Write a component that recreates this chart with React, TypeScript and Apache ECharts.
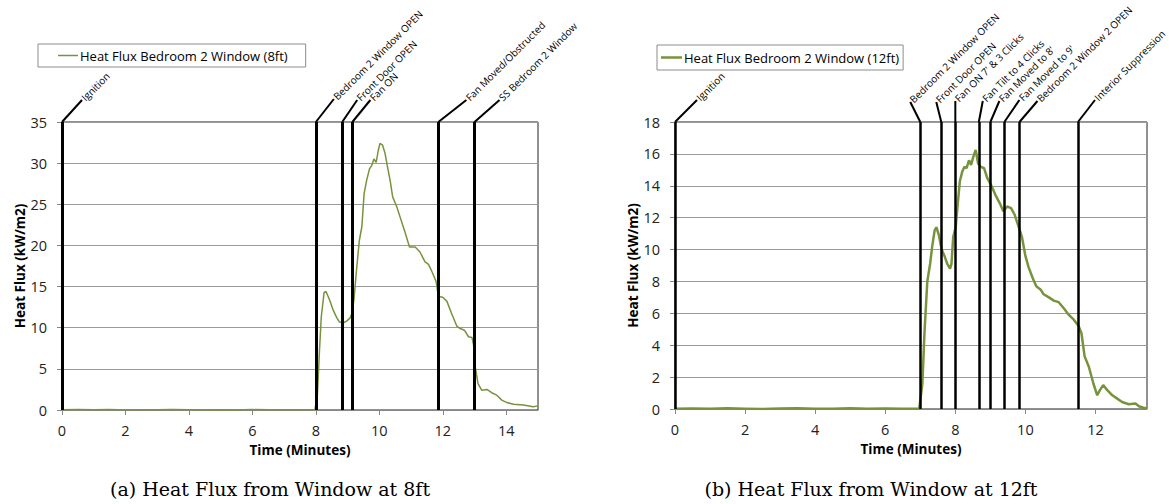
import React, { useEffect, useRef } from "react";
import * as echarts from "echarts";

const seriesNameA = "Heat Flux Bedroom 2 Window (8ft)";
const seriesNameB = "Heat Flux Bedroom 2 Window (12ft)";
const captionA = "(a) Heat Flux from Window at 8ft";
const captionB = "(b) Heat Flux from Window at 12ft";
const xAxisTitle = "Time (Minutes)";
const yAxisTitle = "Heat Flux (kW/m2)";

// [time (min), heat flux (kW/m2)]
const fluxA: [number, number][] = [
  [0, 0.03], [0.5, 0.06], [1, 0.02], [1.5, 0.05], [2, 0.0], [2.5, 0.04], [3, 0.02], [3.5, 0.05],
  [4, 0.03], [4.5, 0.0], [5, 0.03], [5.5, 0.01], [6, 0.05], [6.5, 0.02], [7, 0.04], [7.5, 0.02],
  [7.97, 0.02], [8.05, 2.0], [8.11, 6.9], [8.17, 11.3], [8.26, 14.3], [8.32, 14.4], [8.43, 13.4],
  [8.55, 12.1], [8.66, 11.2], [8.74, 10.7], [8.87, 10.6], [8.97, 10.8], [9.08, 11.2], [9.13, 11.7],
  [9.2, 13.4], [9.29, 17.4], [9.37, 20.6], [9.45, 22.3], [9.52, 26.3], [9.6, 27.9], [9.69, 29.3],
  [9.76, 29.7], [9.83, 30.5], [9.9, 30.1], [9.97, 31.6], [10.02, 32.4], [10.1, 32.2], [10.18, 31.2],
  [10.25, 29.7], [10.34, 27.9], [10.42, 25.9], [10.55, 24.7], [10.65, 23.5], [10.81, 21.6],
  [10.95, 19.8], [11.13, 19.8], [11.28, 19.2], [11.44, 18.0], [11.55, 17.7], [11.66, 16.8],
  [11.79, 15.6], [11.86, 13.8], [12.0, 13.7], [12.13, 13.2], [12.28, 11.7], [12.44, 10.2],
  [12.55, 9.9], [12.68, 9.7], [12.81, 8.9], [12.92, 8.8], [12.97, 7.9], [13.02, 5.3], [13.11, 3.2],
  [13.23, 2.4], [13.39, 2.5], [13.54, 2.1], [13.7, 1.8], [13.86, 1.2], [14.02, 0.9], [14.23, 0.7],
  [14.54, 0.6], [14.85, 0.4], [15, 0.5],
];

const fluxB: [number, number][] = [
  [0, 0.02], [0.5, 0.03], [1, 0.01], [1.5, 0.04], [2, 0.02], [2.5, 0.0], [3, 0.03], [3.5, 0.05],
  [4, 0.02], [4.5, 0.01], [5, 0.04], [5.5, 0.02], [6, 0.03], [6.5, 0.01], [6.97, 0.03],
  [7.06, 1.6], [7.12, 4.8], [7.2, 8.0], [7.28, 9.1], [7.34, 10.2], [7.41, 11.2], [7.46, 11.4],
  [7.53, 10.9], [7.61, 10.0], [7.69, 9.6], [7.77, 9.1], [7.85, 8.8], [7.89, 9.1], [7.94, 10.8],
  [8.01, 11.4], [8.07, 12.9], [8.13, 14.3], [8.2, 14.9], [8.26, 15.2], [8.32, 15.1], [8.39, 15.6],
  [8.45, 15.3], [8.51, 15.8], [8.58, 16.25], [8.65, 15.4], [8.72, 15.2], [8.82, 15.1], [8.91, 14.5],
  [9.03, 14.0], [9.15, 13.4], [9.27, 12.9], [9.37, 12.4], [9.48, 12.7], [9.59, 12.6], [9.69, 12.2],
  [9.81, 11.4], [9.9, 10.8], [10.0, 9.6], [10.09, 8.9], [10.21, 8.2], [10.31, 7.7], [10.43, 7.5],
  [10.52, 7.2], [10.67, 7.0], [10.81, 6.8], [10.95, 6.7], [11.1, 6.3], [11.24, 5.9], [11.38, 5.6],
  [11.52, 5.2], [11.6, 4.75], [11.69, 3.3], [11.81, 2.65], [11.94, 1.6], [12.05, 0.86], [12.13, 1.2],
  [12.22, 1.5], [12.33, 1.2], [12.48, 0.86], [12.62, 0.65], [12.76, 0.44], [12.95, 0.3],
  [13.14, 0.34], [13.24, 0.17], [13.38, 0.06], [13.47, 0.06],
];

const eventTimesA = [0, 8, 8.83, 9.15, 11.86, 13.0];
const eventLabelsA = [
  "Ignition", "Bedroom 2 Window OPEN", "Front Door OPEN", "Fan ON",
  "Fan Moved/Obstructed", "SS Bedroom 2 Window",
];
const eventTimesB = [0, 7.0, 7.6, 8.0, 8.67, 9.0, 9.4, 9.83, 11.5];
const eventLabelsB = [
  "Ignition", "Bedroom 2 Window OPEN", "Front Door OPEN", "Fan ON 7' & 3 Clicks",
  "Fan Tilt to 4 Clicks", "Fan Moved to 8'", "Fan Moved to 9'", "Bedroom 2 Window 2 OPEN",
  "Interior Suppression",
];

const xTicksA = [0, 2, 4, 6, 8, 10, 12, 14];
const xTicksB = [0, 2, 4, 6, 8, 10, 12];
const xMaxA = 15;
const xMaxB = 13.47;
const yMaxA = 35;
const yStepA = 5;
const yMaxB = 18;
const yStepB = 2;

// layout: leader line offsets (dx, up) in px for each event label
const leadersA = [[20, 22], [18, 23], [15, 22], [18, 22], [28, 22], [25, 22]];
const leadersB = [[22, 22], [-10, 20], [-5, 20], [0, 21], [4, 21], [9, 21], [15, 22], [18, 21], [17, 22]];

const GREEN = "#77933C";
const SANS = "Open Sans";

function xAxisCfg(gridIndex: number, max: number, ticks: number[]) {
  return {
    type: "value",
    gridIndex,
    min: 0,
    max,
    name: xAxisTitle,
    nameLocation: "middle",
    nameGap: 32,
    nameTextStyle: { fontFamily: SANS, fontSize: 13.5, fontWeight: "bold", color: "#000" },
    axisLine: { show: true, lineStyle: { color: "#888", width: 1 } },
    axisTick: { show: true, length: 5, lineStyle: { color: "#888" }, customValues: ticks },
    axisLabel: { fontFamily: SANS, fontSize: 14.5, color: "#222", margin: 13, customValues: ticks },
    splitLine: { show: false },
  };
}

function yAxisCfg(gridIndex: number, max: number, step: number, gap: number) {
  return {
    type: "value",
    gridIndex,
    min: 0,
    max,
    interval: step,
    name: yAxisTitle,
    nameLocation: "middle",
    nameGap: gap,
    nameTextStyle: { fontFamily: SANS, fontSize: 13.5, fontWeight: "bold", color: "#000" },
    axisLine: { show: false },
    axisTick: { show: true, length: 5, lineStyle: { color: "#888" } },
    axisLabel: { fontFamily: SANS, fontSize: 14.5, color: "#222", margin: 15 },
    splitLine: { show: true, lineStyle: { color: "#9a9a9a", width: 1 } },
  };
}

function lineSeries(name: string, idx: number, data: [number, number][], width: number, events: number[], evWidth: number) {
  return {
    type: "line",
    name,
    xAxisIndex: idx,
    yAxisIndex: idx,
    data,
    symbol: "none",
    showSymbol: false,
    lineStyle: { color: GREEN, width },
    itemStyle: { color: GREEN },
    z: 3,
    markLine: {
      silent: true,
      symbol: ["none", "none"],
      animation: false,
      label: { show: false },
      lineStyle: { color: "#000", width: evWidth, type: "solid" },
      data: events.map((t) => ({ xAxis: t })),
    },
  };
}

export default function App() {
  const ref = useRef<HTMLDivElement>(null);
  useEffect(() => {
    document.body.style.margin = "0";
    if (!ref.current) return;
    const chart = echarts.init(ref.current, undefined, { renderer: "svg" });
    chart.setOption({
      animation: false,
      backgroundColor: "#fff",
      grid: [
        { left: 62, top: 122, width: 476, height: 288, show: true, borderColor: "#222", borderWidth: 1 },
        { left: 675, top: 122, width: 472, height: 287, show: true, borderColor: "#222", borderWidth: 1 },
      ],
      legend: [
        {
          data: [seriesNameA], left: 38, top: 44, orient: "horizontal",
          padding: [5, 18, 5, 20], borderColor: "#8c8c8c", borderWidth: 1,
          icon: "rect", itemWidth: 20, itemHeight: 1.5, itemGap: 0,
          textStyle: { fontFamily: SANS, fontSize: 13, color: "#000", padding: [0, 0, 0, -3] },
          selectedMode: false,
        },
        {
          data: [seriesNameB], left: 657, top: 45, orient: "horizontal",
          padding: [6, 4, 6, 4], borderColor: "#8c8c8c", borderWidth: 1,
          icon: "rect", itemWidth: 21, itemHeight: 2.5, itemGap: 0,
          textStyle: { fontFamily: SANS, fontSize: 13, color: "#000", padding: [0, 0, 0, -3] },
          selectedMode: false,
        },
      ],
      xAxis: [xAxisCfg(0, xMaxA, xTicksA), xAxisCfg(1, xMaxB, xTicksB)],
      yAxis: [yAxisCfg(0, yMaxA, yStepA, 35), yAxisCfg(1, yMaxB, yStepB, 34)],
      series: [
        lineSeries(seriesNameA, 0, fluxA, 1.5, eventTimesA, 3),
        lineSeries(seriesNameB, 1, fluxB, 2.5, eventTimesB, 2.5),
      ],
    });

    const g: any[] = [];
    const addLabels = (times: number[], labels: string[], offs: number[][], idx: number, yMax: number) => {
      times.forEach((t, i) => {
        const p = chart.convertToPixel({ xAxisIndex: idx, yAxisIndex: idx } as any, [t, yMax]) as number[];
        const px = p[0];
        const py = p[1];
        const [dx, up] = offs[i];
        const ex = px + dx;
        const ey = py - up;
        g.push({
          type: "line", silent: true,
          shape: { x1: px, y1: py, x2: ex, y2: ey },
          style: { stroke: "#000", lineWidth: 2 },
        });
        g.push({
          type: "text", silent: true, x: ex + 1, y: ey - 1, rotation: Math.PI / 4,
          style: {
            text: labels[i], fill: "#000", fontFamily: SANS, fontSize: 10,
            textAlign: "left", textVerticalAlign: "middle", align: "left", verticalAlign: "middle",
          },
        });
      });
    };
    addLabels(eventTimesA, eventLabelsA, leadersA, 0, yMaxA);
    addLabels(eventTimesB, eventLabelsB, leadersB, 1, yMaxB);
    const cap = (text: string, x: number) => ({
      type: "text", silent: true, x, y: 489,
      style: {
        text, fill: "#000", fontFamily: "DejaVu Serif", fontSize: 19,
        textAlign: "center", textVerticalAlign: "middle", align: "center", verticalAlign: "middle",
      },
    });
    g.push(cap(captionA, 270));
    g.push(cap(captionB, 871));
    chart.setOption({ graphic: g });

    return () => chart.dispose();
  }, []);
  return <div ref={ref} style={{ width: 1169, height: 504 }} />;
}
